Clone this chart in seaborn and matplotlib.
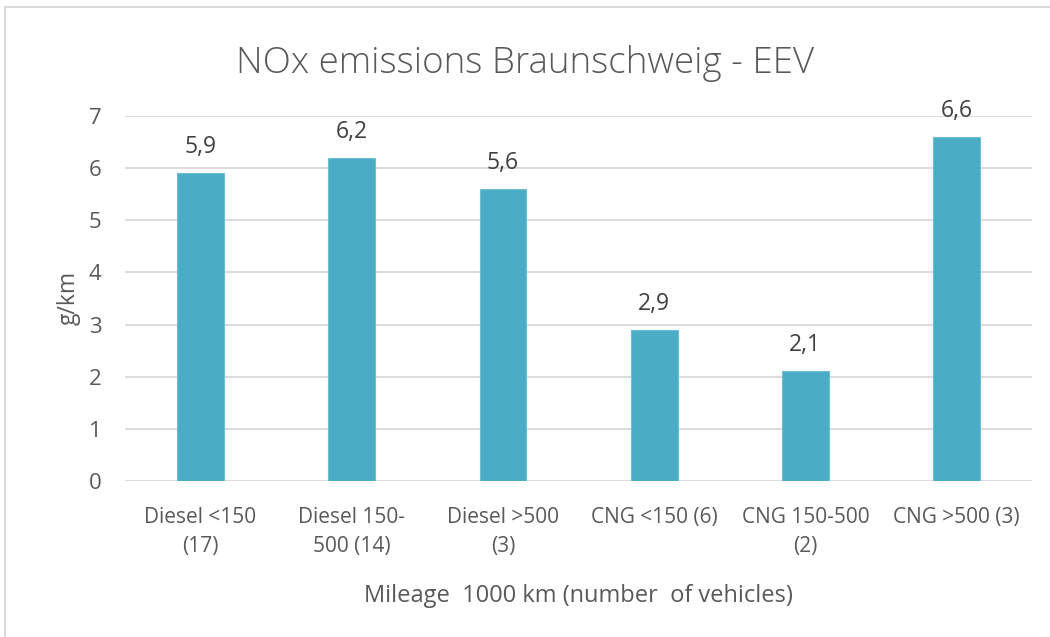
import matplotlib
matplotlib.use("Agg")
import matplotlib.pyplot as plt
import seaborn as sns
import pandas as pd
from matplotlib.lines import Line2D

# data
categories = ["Diesel <150\n(17)", "Diesel 150-\n500 (14)", "Diesel >500\n(3)",
              "CNG <150 (6)", "CNG 150-500\n(2)", "CNG >500 (3)"]
nox_values = [5.9, 6.2, 5.6, 2.9, 2.1, 6.6]
value_labels = ["5,9", "6,2", "5,6", "2,9", "2,1", "6,6"]
y_ticks = [0, 1, 2, 3, 4, 5, 6, 7]

df = pd.DataFrame({"category": categories, "nox": nox_values})

sns.set_theme(style="white")
plt.rcParams["font.family"] = ["Open Sans", "DejaVu Sans"]

text_col = "#595959"
bar_col = "#4BACC6"

fig = plt.figure(figsize=(10.5, 6.37), dpi=100)
ax = fig.add_axes([0.119, 0.245, 0.864, 0.573])

sns.barplot(data=df, x="category", y="nox", color=bar_col, width=0.31,
            saturation=1, ax=ax, zorder=3)
for p in ax.patches:
    p.set_edgecolor("#6FBFD4")
    p.set_linewidth(0.8)

# data labels
for i, (v, lab) in enumerate(zip(nox_values, value_labels)):
    ax.text(i, v + 0.27, lab, ha="center", va="bottom", fontsize=16.5,
            color="#404040")

ax.set_ylim(0, 7)
ax.set_yticks(y_ticks)
ax.set_xlim(-0.5, len(categories) - 0.5)
ax.yaxis.grid(True, color="#D9D9D9", linewidth=1.3, zorder=0)
ax.xaxis.grid(False)
for s in ax.spines.values():
    s.set_visible(False)

ax.tick_params(axis="y", labelsize=16, labelcolor=text_col, length=0, pad=17)
ax.tick_params(axis="x", labelsize=15, labelcolor=text_col, length=0, pad=18.5)
for t in ax.get_xticklabels():
    t.set_linespacing(1.55)

ax.set_ylabel("g/km", fontsize=16.5, color=text_col, labelpad=6)
ax.set_xlabel("Mileage  1000 km (number  of vehicles)", fontsize=17,
              color=text_col, labelpad=19)

fig.suptitle("NOx emissions Braunschweig - EEV", fontsize=26.5, color=text_col,
             y=0.9, va="center", fontweight="light")

# chart border (top and left visible)
fig.add_artist(Line2D([0.005, 1.0], [0.989, 0.989], color="#D9D9D9",
                      linewidth=1.5, transform=fig.transFigure))
fig.add_artist(Line2D([0.005, 0.005], [0.0, 0.989], color="#D9D9D9",
                      linewidth=1.5, transform=fig.transFigure))

fig.savefig("out.png", dpi=100, facecolor="white")
